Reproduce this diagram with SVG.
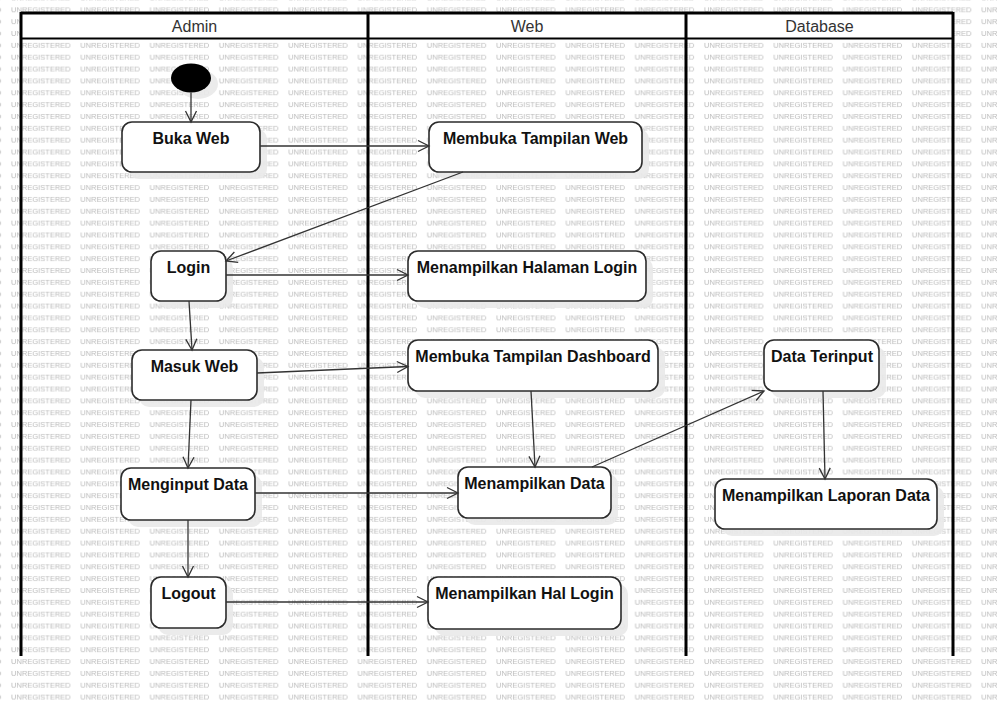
<svg xmlns="http://www.w3.org/2000/svg" width="997" height="701" viewBox="0 0 997 701">
<style>
.wm{font-family:"Liberation Sans",Arial,sans-serif;font-size:7.5px;fill:#b9b9b9}
.lane{stroke:#000;stroke-width:3;fill:none}
.hdr{font-family:"Liberation Sans",Arial,sans-serif;font-size:16px;fill:#333;text-anchor:middle}
.box{fill:#fff;stroke:#2b2b2b;stroke-width:1.6}
.shd{fill:#e9e9e9;opacity:0.9}
.lbl{font-family:"Liberation Sans",Arial,sans-serif;font-size:16px;font-weight:bold;fill:#111;text-anchor:middle}
.con{stroke:#333;stroke-width:1.3;fill:none;marker-end:url(#arr)}
</style>
<defs>
<pattern id="wmp" patternUnits="userSpaceOnUse" x="11" y="3.4" width="69.3" height="11.85">
<text class="wm" x="0" y="8.6">UNREGISTERED</text>
</pattern>
<marker id="arr" markerUnits="userSpaceOnUse" markerWidth="14" markerHeight="14" viewBox="-12 -7 14 14" refX="0" refY="0" orient="auto">
<path d="M-11,-5.5 L0,0 L-11,5.5" fill="none" stroke="#333" stroke-width="1.3"/>
</marker>
</defs>
<rect x="0" y="0" width="997" height="701" fill="#fff"/>
<rect x="0" y="0" width="997" height="701" fill="url(#wmp)"/>

<g id="swimlanes">
<rect x="21" y="13" width="932" height="26" fill="#fff"/>
<line class="lane" x1="21" y1="13" x2="953" y2="13"/>
<line x1="21" y1="38.5" x2="953" y2="38.5" stroke="#000" stroke-width="2"/>
<line class="lane" x1="21" y1="12" x2="21" y2="656"/>
<line class="lane" x1="368" y1="12" x2="368" y2="656"/>
<line class="lane" x1="686" y1="12" x2="686" y2="656"/>
<line class="lane" x1="953" y1="12" x2="953" y2="656"/>
<text class="hdr" x="194.5" y="31.5">Admin</text>
<text class="hdr" x="527" y="31.5">Web</text>
<text class="hdr" x="819.5" y="31.5">Database</text>
</g>

<g id="start">
<ellipse class="shd" cx="198" cy="84" rx="20" ry="15"/>
<ellipse cx="191" cy="78" rx="20" ry="14.5" fill="#000"/>
</g>
<g id="buka-web">
<rect class="shd" x="129" y="129" width="138" height="50" rx="10"/>
<rect class="box" x="122" y="122" width="138" height="50" rx="10"/>
<text class="lbl" x="191" y="144">Buka Web</text>
</g>
<g id="membuka-tampilan-web">
<rect class="shd" x="436" y="129" width="213" height="50" rx="10"/>
<rect class="box" x="429" y="122" width="213" height="50" rx="10"/>
<text class="lbl" x="535.5" y="144">Membuka Tampilan Web</text>
</g>
<g id="login">
<rect class="shd" x="158" y="258" width="75" height="50" rx="10"/>
<rect class="box" x="151" y="251" width="75" height="50" rx="10"/>
<text class="lbl" x="188.5" y="273">Login</text>
</g>
<g id="menampilkan-halaman-login">
<rect class="shd" x="415" y="258" width="238" height="50" rx="10"/>
<rect class="box" x="408" y="251" width="238" height="50" rx="10"/>
<text class="lbl" x="527" y="273">Menampilkan Halaman Login</text>
</g>
<g id="masuk-web">
<rect class="shd" x="139" y="357" width="125" height="50" rx="10"/>
<rect class="box" x="132" y="350" width="125" height="50" rx="10"/>
<text class="lbl" x="194.5" y="372">Masuk Web</text>
</g>
<g id="membuka-tampilan-dashboard">
<rect class="shd" x="415" y="347" width="250" height="51" rx="10"/>
<rect class="box" x="408" y="340" width="250" height="51" rx="10"/>
<text class="lbl" x="533" y="362">Membuka Tampilan Dashboard</text>
</g>
<g id="data-terinput">
<rect class="shd" x="771" y="347" width="115" height="51" rx="10"/>
<rect class="box" x="764" y="340" width="115" height="51" rx="10"/>
<text class="lbl" x="822" y="362">Data Terinput</text>
</g>
<g id="menginput-data">
<rect class="shd" x="128" y="475" width="134" height="52" rx="10"/>
<rect class="box" x="121" y="468" width="134" height="52" rx="10"/>
<text class="lbl" x="188" y="490">Menginput Data</text>
</g>
<g id="menampilkan-data">
<rect class="shd" x="465" y="474" width="153" height="51" rx="10"/>
<rect class="box" x="458" y="467" width="153" height="51" rx="10"/>
<text class="lbl" x="534.5" y="489">Menampilkan Data</text>
</g>
<g id="menampilkan-laporan-data">
<rect class="shd" x="722" y="486" width="222" height="50" rx="10"/>
<rect class="box" x="715" y="479" width="222" height="50" rx="10"/>
<text class="lbl" x="826" y="501">Menampilkan Laporan Data</text>
</g>
<g id="logout">
<rect class="shd" x="158" y="584" width="75" height="51" rx="10"/>
<rect class="box" x="151" y="577" width="75" height="51" rx="10"/>
<text class="lbl" x="188.5" y="599">Logout</text>
</g>
<g id="menampilkan-hal-login">
<rect class="shd" x="435" y="584" width="193" height="52" rx="10"/>
<rect class="box" x="428" y="577" width="193" height="52" rx="10"/>
<text class="lbl" x="524.5" y="599">Menampilkan Hal Login</text>
</g>

<g id="connectors">
<line class="con" x1="191" y1="92.5" x2="191" y2="122"/>
<line class="con" x1="260" y1="146" x2="429" y2="146"/>
<line class="con" x1="463" y1="172" x2="226" y2="261"/>
<line class="con" x1="226" y1="275" x2="408" y2="275"/>
<line class="con" x1="189" y1="301" x2="192" y2="350"/>
<line class="con" x1="257" y1="373" x2="408" y2="366.5"/>
<line class="con" x1="191" y1="400" x2="188" y2="468"/>
<line class="con" x1="255" y1="493" x2="458" y2="493"/>
<line class="con" x1="188" y1="520" x2="188" y2="577"/>
<line class="con" x1="226" y1="602" x2="428" y2="602"/>
<line class="con" x1="531" y1="391" x2="535" y2="467"/>
<line class="con" x1="592" y1="467" x2="764" y2="391"/>
<line class="con" x1="823" y1="391" x2="825" y2="479"/>
</g>
</svg>
